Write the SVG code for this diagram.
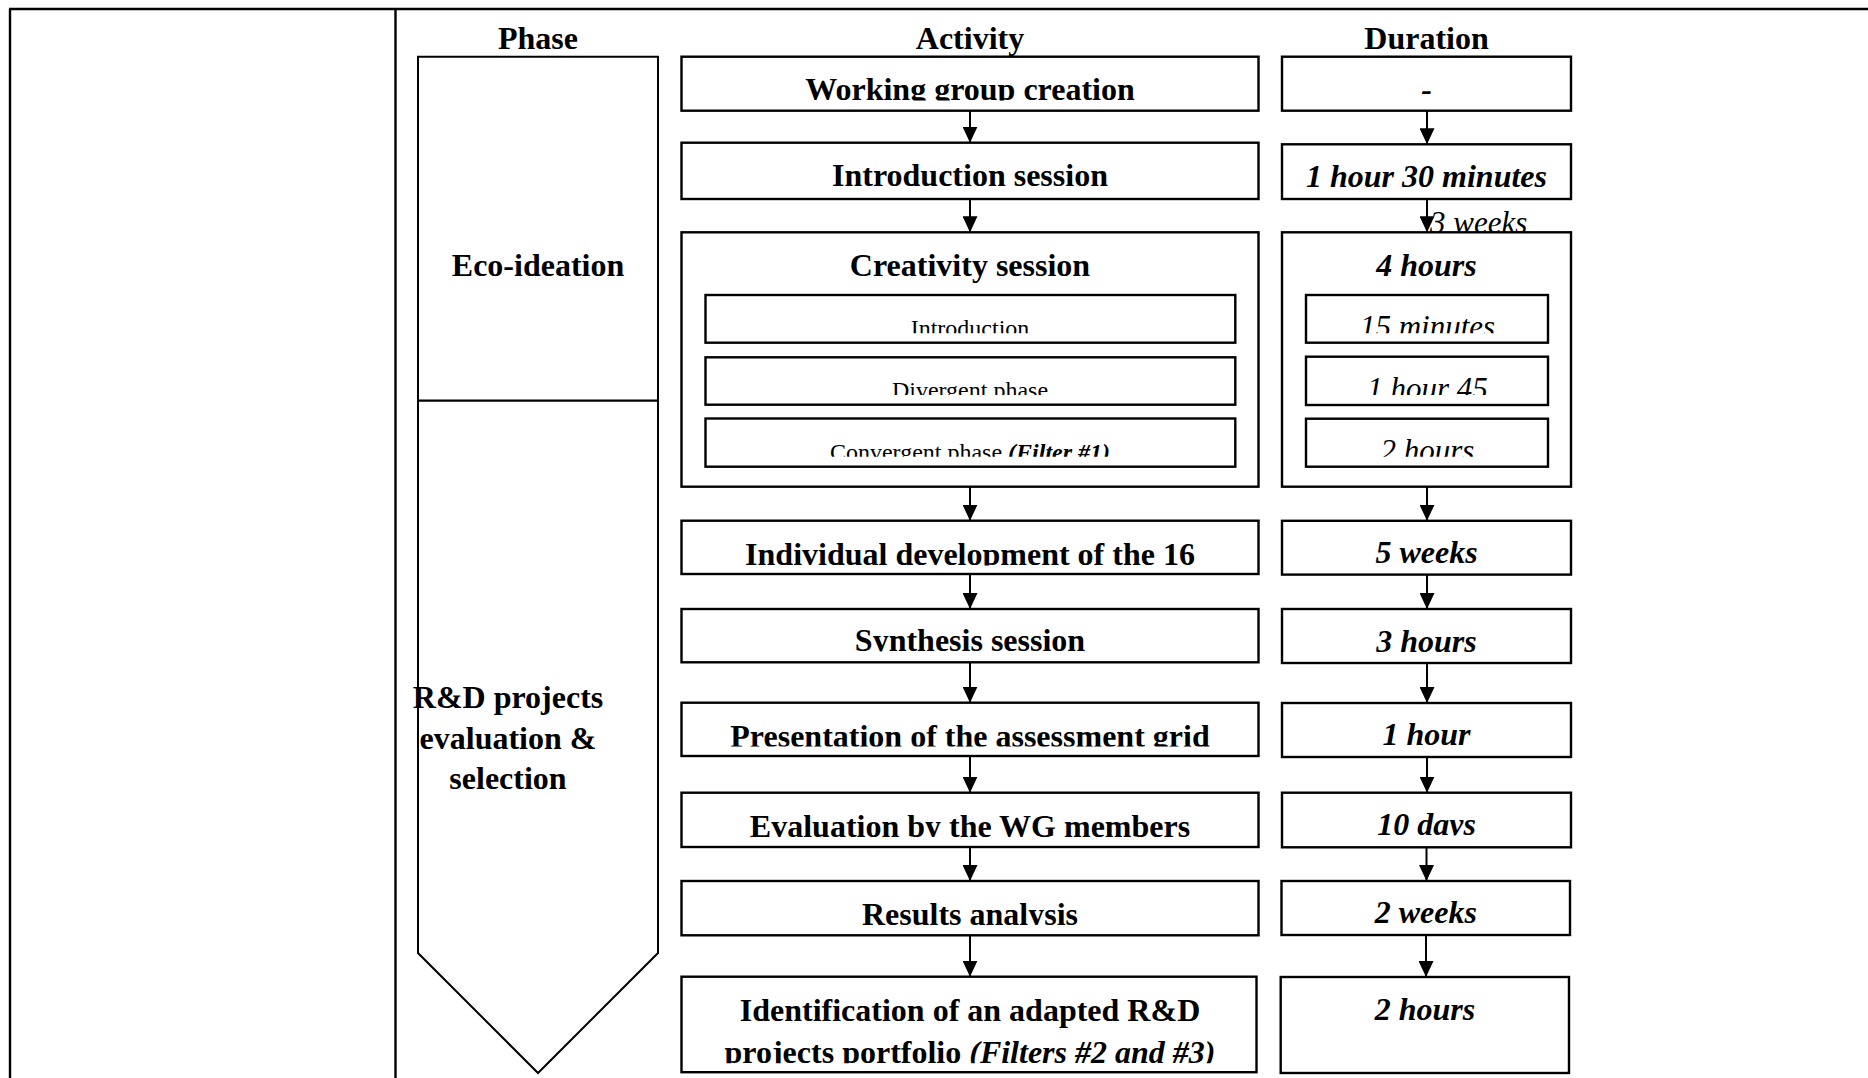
<svg xmlns="http://www.w3.org/2000/svg" width="1868" height="1078" viewBox="0 0 1868 1078">
<style>
text{font-family:"Liberation Serif","Times New Roman",serif;fill:#000}
.h{font-size:32px;font-weight:bold;text-anchor:middle}
.b{font-size:32px;font-weight:bold;text-anchor:middle}
.bi{font-size:32px;font-weight:bold;font-style:italic;text-anchor:middle}
.s{font-size:24px;text-anchor:middle}
.si{font-size:31px;font-style:italic;text-anchor:middle}
.box{fill:#fff;stroke:#000;stroke-width:2.4}
.frame{fill:none;stroke:#000;stroke-width:2.4}
.phase{fill:#fff;stroke:#000;stroke-width:2}
.conn line{stroke:#000;stroke-width:2}
</style>
<defs>
<marker id="ah" markerWidth="16" markerHeight="15" refX="16" refY="7.5" orient="auto" markerUnits="userSpaceOnUse" viewBox="0 0 16 15">
<path d="M0,0 L16,7.5 L0,15 Z" fill="#000"/>
</marker>
<clipPath id="c1"><rect x="682" y="57" width="576" height="43.5"/></clipPath>
<clipPath id="c4"><rect x="682" y="521" width="576" height="44.5"/></clipPath>
<clipPath id="c5"><rect x="682" y="609" width="576" height="42.5"/></clipPath>
<clipPath id="c6"><rect x="682" y="703" width="576" height="43.5"/></clipPath>
<clipPath id="c7"><rect x="682" y="793" width="576" height="44"/></clipPath>
<clipPath id="c8"><rect x="682" y="881" width="576" height="44"/></clipPath>
<clipPath id="c9"><rect x="682" y="977" width="576" height="86.3"/></clipPath>
<clipPath id="d7"><rect x="1282" y="793" width="289" height="42.5"/></clipPath>
<clipPath id="sa1"><rect x="706" y="295" width="529" height="38.3"/></clipPath>
<clipPath id="sa2"><rect x="706" y="357" width="529" height="38"/></clipPath>
<clipPath id="sa3"><rect x="706" y="418.5" width="529" height="38.2"/></clipPath>
<clipPath id="sd1"><rect x="1306" y="295" width="242" height="38.3"/></clipPath>
<clipPath id="sd2"><rect x="1306" y="357" width="242" height="38"/></clipPath>
<clipPath id="sd3"><rect x="1306" y="418.7" width="242" height="38"/></clipPath>
<clipPath id="w3"><rect x="1400" y="200" width="200" height="32"/></clipPath>
</defs>

<g id="frame">
<line class="frame" x1="9" y1="9" x2="1868" y2="9"/>
<line class="frame" x1="10" y1="9" x2="10" y2="1078"/>
<line class="frame" x1="395.5" y1="9" x2="395.5" y2="1078"/>
</g>

<g id="headers">
<text class="h" x="538" y="49">Phase</text>
<text class="h" x="970" y="49">Activity</text>
<text class="h" x="1426.5" y="49">Duration</text>
</g>

<g id="phase-column">
<polygon class="phase" points="418,56.7 658,56.7 658,953 538,1073 418,953"/>
<line x1="418" y1="400.7" x2="658" y2="400.7" stroke="#000" stroke-width="2.2"/>
</g>
<g id="phase-eco">
<text class="b" x="538" y="276">Eco-ideation</text>
</g>
<g id="phase-rd">
<text class="b" x="508" y="708">R&amp;D projects</text>
<text class="b" x="508" y="749">evaluation &amp;</text>
<text class="b" x="508" y="789">selection</text>
</g>

<g id="duration-3weeks">
<text class="si" x="1430" y="233" style="text-anchor:start" clip-path="url(#w3)">3 weeks</text>
</g>

<g id="a1"><rect class="box" x="681.5" y="56.7" width="577" height="54"/><text class="b" x="970" y="100" clip-path="url(#c1)">Working group creation</text></g>
<g id="a2"><rect class="box" x="681.5" y="142.7" width="577" height="56.3"/><text class="b" x="970" y="186">Introduction session</text></g>
<g id="a3"><rect class="box" x="681.5" y="232.3" width="577" height="254.4"/><text class="b" x="970" y="275.5">Creativity session</text></g>
<g id="a3-1"><rect class="box" x="705.5" y="295" width="529.8" height="47.7"/><text class="s" x="970" y="336" clip-path="url(#sa1)">Introduction</text></g>
<g id="a3-2"><rect class="box" x="705.5" y="357.3" width="529.8" height="47.4"/><text class="s" x="970" y="398" clip-path="url(#sa2)">Divergent phase</text></g>
<g id="a3-3"><rect class="box" x="705.5" y="418.5" width="529.8" height="48.2"/><text class="s" x="970" y="459.5" clip-path="url(#sa3)">Convergent phase <tspan font-weight="bold" font-style="italic">(Filter #1)</tspan></text></g>
<g id="a4"><rect class="box" x="681.5" y="520.7" width="577" height="53.3"/><text class="b" x="970" y="565" clip-path="url(#c4)">Individual development of the 16</text></g>
<g id="a5"><rect class="box" x="681.5" y="609" width="577" height="53.3"/><text class="b" x="970" y="651" clip-path="url(#c5)">Synthesis session</text></g>
<g id="a6"><rect class="box" x="681.5" y="702.7" width="577" height="53.3"/><text class="b" x="970" y="746.5" clip-path="url(#c6)">Presentation of the assessment grid</text></g>
<g id="a7"><rect class="box" x="681.5" y="792.7" width="577" height="54.3"/><text class="b" x="970" y="837" clip-path="url(#c7)">Evaluation by the WG members</text></g>
<g id="a8"><rect class="box" x="681.5" y="881" width="577" height="54.3"/><text class="b" x="970" y="925" clip-path="url(#c8)">Results analysis</text></g>
<g id="a9"><rect class="box" x="681.5" y="976.7" width="575" height="95.5"/><text class="b" x="970" clip-path="url(#c9)"><tspan x="970" y="1021">Identification of an adapted R&amp;D</tspan><tspan x="970" y="1063">projects portfolio <tspan font-style="italic">(Filters #2 and #3)</tspan></tspan></text></g>

<g id="d1"><rect class="box" x="1282" y="56.7" width="289" height="54"/><text class="bi" x="1426.5" y="100">-</text></g>
<g id="d2"><rect class="box" x="1282" y="144.3" width="289" height="54.7"/><text class="bi" x="1426.5" y="187">1 hour 30 minutes</text></g>
<g id="d3"><rect class="box" x="1282" y="232.3" width="289" height="254.4"/><text class="bi" x="1426.5" y="275.5">4 hours</text></g>
<g id="d3-1"><rect class="box" x="1306" y="295" width="242" height="47.7"/><text class="si" x="1427.5" y="337" clip-path="url(#sd1)">15 minutes</text></g>
<g id="d3-2"><rect class="box" x="1306" y="356.7" width="242" height="48.3"/><text class="si" x="1427.5" y="399" clip-path="url(#sd2)">1 hour 45</text></g>
<g id="d3-3"><rect class="box" x="1306" y="418.7" width="242" height="48"/><text class="si" x="1427.5" y="461" clip-path="url(#sd3)">2 hours</text></g>
<g id="d4"><rect class="box" x="1282" y="520.8" width="289" height="53.8"/><text class="bi" x="1426.5" y="563">5 weeks</text></g>
<g id="d5"><rect class="box" x="1282" y="609" width="289" height="54"/><text class="bi" x="1426.5" y="651.6">3 hours</text></g>
<g id="d6"><rect class="box" x="1282" y="703" width="289" height="54"/><text class="bi" x="1426.5" y="745">1 hour</text></g>
<g id="d7"><rect class="box" x="1282" y="792.7" width="289" height="54.6"/><text class="bi" x="1426.5" y="835" clip-path="url(#d7)">10 days</text></g>
<g id="d8"><rect class="box" x="1281.5" y="881" width="288.5" height="54"/><text class="bi" x="1425.8" y="923">2 weeks</text></g>
<g id="d9"><rect class="box" x="1280.7" y="977" width="288.3" height="96"/><text class="bi" x="1425" y="1019.7">2 hours</text></g>

<g id="connectors" class="conn">
<line x1="970" y1="110.7" x2="970" y2="142.7" marker-end="url(#ah)"/>
<line x1="970" y1="199" x2="970" y2="232.3" marker-end="url(#ah)"/>
<line x1="970" y1="486.7" x2="970" y2="520.7" marker-end="url(#ah)"/>
<line x1="970" y1="574" x2="970" y2="609" marker-end="url(#ah)"/>
<line x1="970" y1="662.3" x2="970" y2="702.7" marker-end="url(#ah)"/>
<line x1="970" y1="756" x2="970" y2="792.7" marker-end="url(#ah)"/>
<line x1="970" y1="847" x2="970" y2="881" marker-end="url(#ah)"/>
<line x1="970" y1="935.3" x2="970" y2="976.7" marker-end="url(#ah)"/>
<line x1="1427" y1="110.7" x2="1427" y2="144.3" marker-end="url(#ah)"/>
<line x1="1427" y1="199" x2="1427" y2="232.3" marker-end="url(#ah)"/>
<line x1="1427" y1="486.7" x2="1427" y2="520.8" marker-end="url(#ah)"/>
<line x1="1427" y1="574.6" x2="1427" y2="609" marker-end="url(#ah)"/>
<line x1="1427" y1="663" x2="1427" y2="703" marker-end="url(#ah)"/>
<line x1="1427" y1="757" x2="1427" y2="792.7" marker-end="url(#ah)"/>
<line x1="1426.5" y1="847.3" x2="1426.5" y2="881" marker-end="url(#ah)"/>
<line x1="1426" y1="935" x2="1426" y2="977" marker-end="url(#ah)"/>
</g>
</svg>
